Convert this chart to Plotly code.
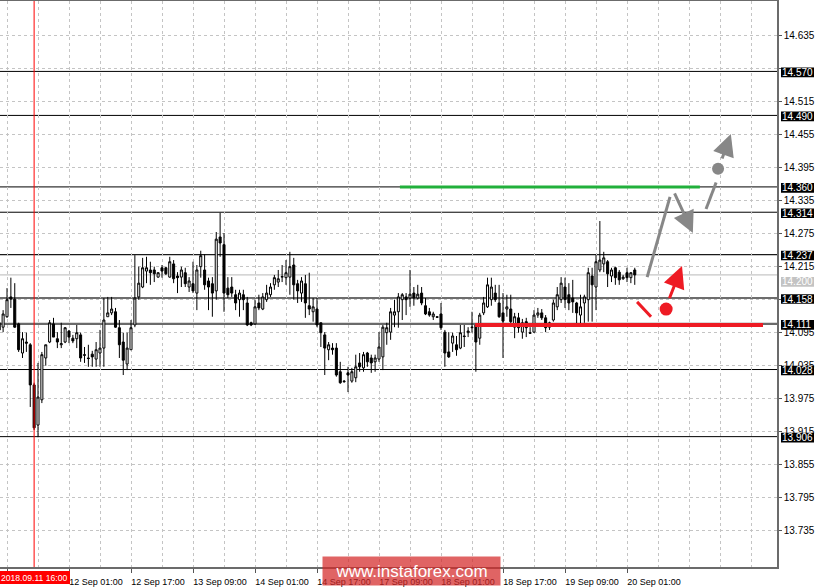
import plotly.graph_objects as go

# ---------------- data ----------------
# bar index 0 = 11 Sep 09:00 (H1 bars, weekend skipped)
BARS = list(range(-2, 163))
OPEN = [14.100, 14.105, 14.124, 14.160, 14.156, 14.111, 14.058, 14.078, 14.073, 14.000,
        13.927, 13.973, 14.049, 14.078, 14.111, 14.084, 14.073, 14.078, 14.098, 14.085,
        14.084, 14.091, 14.055, 14.049, 14.056, 14.047, 14.058, 14.067, 14.124, 14.131,
        14.133, 14.104, 14.078, 14.038, 14.064, 14.109, 14.160, 14.178, 14.207, 14.209,
        14.209, 14.196, 14.213, 14.213, 14.196, 14.220, 14.198, 14.196, 14.204, 14.178,
        14.184, 14.167, 14.215, 14.209, 14.189, 14.184, 14.171, 14.269, 14.255, 14.176,
        14.178, 14.164, 14.155, 14.164, 14.149, 14.113, 14.111, 14.149, 14.138, 14.155,
        14.164, 14.182, 14.187, 14.196, 14.195, 14.196, 14.218, 14.184, 14.167, 14.184,
        14.144, 14.133, 14.138, 14.113, 14.091, 14.064, 14.067, 14.067, 14.024, 14.007,
        14.022, 14.007, 14.013, 14.040, 14.031, 14.058, 14.049, 14.042, 14.047, 14.051,
        14.095, 14.096, 14.127, 14.133, 14.155, 14.160, 14.158, 14.167, 14.158, 14.167,
        14.144, 14.133, 14.124, 14.124, 14.129, 14.096, 14.060, 14.076, 14.073, 14.067,
        14.089, 14.095, 14.104, 14.109, 14.085, 14.131, 14.142, 14.155, 14.167, 14.149,
        14.131, 14.138, 14.138, 14.105, 14.122, 14.096, 14.115, 14.095, 14.096, 14.127,
        14.131, 14.122, 14.105, 14.118, 14.142, 14.155, 14.178, 14.164, 14.158, 14.149,
        14.127, 14.149, 14.155, 14.198, 14.178, 14.209, 14.220, 14.224, 14.198, 14.213,
        14.205, 14.193, 14.204, 14.195, 14.209]
HIGH = [14.122, 14.136, 14.176, 14.195, 14.185, 14.113, 14.096, 14.095, 14.076, 14.004,
        14.040, 14.060, 14.073, 14.118, 14.122, 14.096, 14.113, 14.105, 14.100, 14.091,
        14.109, 14.095, 14.069, 14.073, 14.062, 14.078, 14.100, 14.158, 14.160, 14.160,
        14.140, 14.118, 14.095, 14.095, 14.118, 14.236, 14.215, 14.231, 14.233, 14.224,
        14.215, 14.205, 14.218, 14.215, 14.233, 14.227, 14.205, 14.215, 14.213, 14.196,
        14.224, 14.218, 14.244, 14.238, 14.195, 14.196, 14.278, 14.313, 14.276, 14.196,
        14.196, 14.173, 14.173, 14.173, 14.160, 14.115, 14.155, 14.164, 14.167, 14.182,
        14.185, 14.200, 14.209, 14.218, 14.227, 14.242, 14.231, 14.191, 14.196, 14.200,
        14.204, 14.158, 14.158, 14.113, 14.096, 14.078, 14.076, 14.076, 14.042, 14.009,
        14.033, 14.031, 14.055, 14.058, 14.060, 14.060, 14.055, 14.055, 14.096, 14.109,
        14.113, 14.140, 14.155, 14.167, 14.167, 14.167, 14.209, 14.178, 14.182, 14.178,
        14.158, 14.140, 14.133, 14.125, 14.149, 14.100, 14.096, 14.095, 14.089, 14.109,
        14.109, 14.105, 14.133, 14.109, 14.131, 14.160, 14.195, 14.195, 14.182, 14.182,
        14.167, 14.164, 14.164, 14.131, 14.131, 14.120, 14.122, 14.105, 14.136, 14.140,
        14.138, 14.127, 14.115, 14.155, 14.178, 14.196, 14.195, 14.185, 14.191, 14.151,
        14.164, 14.164, 14.213, 14.213, 14.236, 14.298, 14.242, 14.227, 14.213, 14.215,
        14.209, 14.200, 14.213, 14.205, 14.213]
LOW = [14.091, 14.096, 14.122, 14.140, 14.104, 14.060, 14.049, 14.060, 13.960, 13.918,
       13.905, 13.967, 14.035, 14.076, 14.087, 14.067, 14.067, 14.076, 14.076, 14.076,
       14.067, 14.042, 14.040, 14.033, 14.033, 14.033, 14.033, 14.033, 14.124, 14.127,
       14.104, 14.049, 14.018, 14.027, 14.064, 14.105, 14.155, 14.176, 14.185, 14.182,
       14.187, 14.195, 14.195, 14.200, 14.195, 14.185, 14.167, 14.178, 14.178, 14.169,
       14.167, 14.136, 14.195, 14.173, 14.136, 14.124, 14.155, 14.233, 14.133, 14.158,
       14.160, 14.136, 14.124, 14.136, 14.107, 14.107, 14.109, 14.136, 14.136, 14.151,
       14.160, 14.173, 14.178, 14.187, 14.182, 14.164, 14.155, 14.149, 14.151, 14.122,
       14.127, 14.115, 14.105, 14.069, 14.018, 14.045, 14.055, 14.015, 14.002, 14.004,
       13.987, 14.004, 14.005, 14.024, 14.024, 14.033, 14.022, 14.024, 14.042, 14.027,
       14.073, 14.082, 14.105, 14.104, 14.118, 14.127, 14.142, 14.144, 14.155, 14.145,
       14.127, 14.124, 14.118, 14.122, 14.100, 14.033, 14.049, 14.060, 14.053, 14.065,
       14.069, 14.087, 14.095, 14.024, 14.073, 14.127, 14.140, 14.144, 14.151, 14.122,
       14.049, 14.124, 14.109, 14.085, 14.095, 14.084, 14.087, 14.093, 14.095, 14.122,
       14.118, 14.096, 14.100, 14.115, 14.136, 14.149, 14.140, 14.136, 14.131, 14.109,
       14.109, 14.113, 14.115, 14.115, 14.136, 14.205, 14.205, 14.178, 14.187, 14.182,
       14.182, 14.191, 14.187, 14.185, 14.182]
CLOSE = [14.113, 14.129, 14.155, 14.156, 14.105, 14.064, 14.084, 14.076, 14.000, 13.922,
         13.978, 14.055, 14.073, 14.113, 14.087, 14.078, 14.075, 14.104, 14.087, 14.080,
         14.095, 14.049, 14.054, 14.048, 14.051, 14.064, 14.067, 14.118, 14.131, 14.138,
         14.105, 14.073, 14.045, 14.067, 14.104, 14.158, 14.185, 14.213, 14.213, 14.204,
         14.202, 14.204, 14.207, 14.202, 14.224, 14.193, 14.195, 14.209, 14.184, 14.189,
         14.171, 14.209, 14.235, 14.182, 14.178, 14.167, 14.265, 14.258, 14.167, 14.164,
         14.167, 14.149, 14.167, 14.155, 14.109, 14.109, 14.142, 14.140, 14.160, 14.167,
         14.178, 14.195, 14.193, 14.197, 14.204, 14.215, 14.182, 14.171, 14.189, 14.149,
         14.138, 14.142, 14.109, 14.095, 14.067, 14.073, 14.064, 14.018, 14.004, 14.006,
         14.018, 14.024, 14.033, 14.033, 14.055, 14.042, 14.040, 14.049, 14.069, 14.105,
         14.104, 14.133, 14.133, 14.160, 14.164, 14.155, 14.165, 14.158, 14.165, 14.149,
         14.129, 14.127, 14.129, 14.123, 14.104, 14.058, 14.051, 14.089, 14.064, 14.095,
         14.088, 14.098, 14.105, 14.078, 14.127, 14.149, 14.182, 14.178, 14.155, 14.124,
         14.116, 14.142, 14.115, 14.124, 14.104, 14.113, 14.104, 14.094, 14.127, 14.131,
         14.122, 14.104, 14.113, 14.149, 14.164, 14.185, 14.155, 14.149, 14.151, 14.131,
         14.142, 14.160, 14.204, 14.182, 14.224, 14.227, 14.231, 14.202, 14.209, 14.195,
         14.191, 14.196, 14.195, 14.204, 14.200]

TICK_BARS = [0, 16, 32, 48, 64, 80, 96, 112, 128, 144, 160]
TICK_LABELS = ["", "12 Sep 01:00", "12 Sep 17:00", "13 Sep 09:00",
               "14 Sep 01:00", "14 Sep 17:00", "17 Sep 09:00", "18 Sep 01:00",
               "18 Sep 17:00", "19 Sep 09:00", "20 Sep 01:00"]
PRICE_TICKS = [13.735, 13.795, 13.855, 13.915, 13.975, 14.035, 14.095, 14.155,
               14.215, 14.275, 14.335, 14.395, 14.455, 14.515, 14.575, 14.635]
PRICE_TICK_LABELS = ["13.735", "13.795", "13.855", "13.915", "13.975", "14.035", "14.095", "",
                     "14.215", "14.275", "14.335", "14.395", "14.455", "14.515", "", "14.635"]

LEVELS = [14.570, 14.490, 14.360, 14.314, 14.237, 14.158, 14.111, 14.028, 13.906]
LEVEL_LINE_COLORS = ["#000000", "#000000", "#000000", "#000000", "#1a1a1a",
                     "#3c3c3c", "#6a6a6a", "#000000", "#000000"]
LEVEL_LINE_WIDTHS = [1, 1, 1, 1, 1.3, 1.6, 2.2, 1, 1]
BID_PRICE = 14.200

CROSS_BAR = 7
CROSS_LABEL = "2018.09.11 16:00"

GREEN_BARS = [101.4, 178.8]
GREEN_PRICES = [14.360, 14.360]
RED_BARS = [120.8, 195.1]
RED_PRICES = [14.109, 14.109]

GRAY_UP_BARS = [165.2, 171.1]
GRAY_UP_PRICES = [14.196, 14.342]
GRAY_DASH_BARS = [180.4, 183.0]
GRAY_DASH_PRICES = [14.320, 14.368]
GRAY_DOWN_ARROW = [(172.1, 14.351), (177.0, 14.276)]   # (tail), (tip)
GRAY_DOT = (183.5, 14.393)
GRAY_UP_ARROW = [(184.4, 14.409), (186.8, 14.456)]
RED_DASH_BARS = [162.6, 166.2]
RED_DASH_PRICES = [14.151, 14.124]
RED_DOT = (170.1, 14.138)
RED_UP_ARROW = [(170.8, 14.155), (174.2, 14.216)]

WATERMARK = "www.instaforex.com"

# ---------------- geometry ----------------
W, H = 824, 588
ML, MR, MT, MB = 0, 47, 1, 21
PW, PH = W - ML - MR, H - MT - MB
YMIN, YMAX = 13.669, 14.698
XMIN, XMAX = -1.806, 198.71
FONT = "Liberation Sans, Arial, sans-serif"


def paper_y(price):
    return (price - YMIN) / (YMAX - YMIN)


fig = go.Figure()

fig.add_trace(go.Candlestick(
    x=BARS, open=OPEN, high=HIGH, low=LOW, close=CLOSE,
    increasing=dict(line=dict(color="#000000", width=1), fillcolor="#ffffff"),
    decreasing=dict(line=dict(color="#000000", width=1), fillcolor="#000000"),
    whiskerwidth=0, hoverinfo="skip", showlegend=False,
))

# hand-drawn trade idea
fig.add_trace(go.Scatter(x=GREEN_BARS, y=GREEN_PRICES, mode="lines",
                         line=dict(color="#21b03b", width=3), hoverinfo="skip"))
fig.add_trace(go.Scatter(x=RED_BARS, y=RED_PRICES, mode="lines",
                         line=dict(color="#ee1b24", width=4), hoverinfo="skip"))
fig.add_trace(go.Scatter(x=GRAY_UP_BARS, y=GRAY_UP_PRICES, mode="lines",
                         line=dict(color="#878787", width=3), hoverinfo="skip"))
fig.add_trace(go.Scatter(x=GRAY_DASH_BARS, y=GRAY_DASH_PRICES, mode="lines",
                         line=dict(color="#878787", width=3), hoverinfo="skip"))
fig.add_trace(go.Scatter(x=RED_DASH_BARS, y=RED_DASH_PRICES, mode="lines",
                         line=dict(color="#ee1b24", width=3), hoverinfo="skip"))
fig.add_trace(go.Scatter(x=[GRAY_DOT[0]], y=[GRAY_DOT[1]], mode="markers",
                         marker=dict(color="#878787", size=12), hoverinfo="skip"))
fig.add_trace(go.Scatter(x=[RED_DOT[0]], y=[RED_DOT[1]], mode="markers",
                         marker=dict(color="#ee1b24", size=13), hoverinfo="skip"))

annotations = []
for (tail, tip, col) in [(GRAY_DOWN_ARROW[0], GRAY_DOWN_ARROW[1], "#878787"),
                         (GRAY_UP_ARROW[0], GRAY_UP_ARROW[1], "#878787"),
                         (RED_UP_ARROW[0], RED_UP_ARROW[1], "#ee1b24")]:
    annotations.append(dict(x=tip[0], y=tip[1], ax=tail[0], ay=tail[1],
                            xref="x", yref="y", axref="x", ayref="y", text="",
                            showarrow=True, arrowhead=2, arrowsize=1.45, arrowwidth=3,
                            arrowcolor=col, standoff=0, startstandoff=0))

shapes = []
# level lines
for p, c, w in zip(LEVELS, LEVEL_LINE_COLORS, LEVEL_LINE_WIDTHS):
    shapes.append(dict(type="line", xref="paper", yref="y", x0=0, x1=1, y0=p, y1=p,
                       line=dict(color=c, width=w), layer="below"))
shapes.append(dict(type="line", xref="paper", yref="y", x0=0, x1=1,
                   y0=BID_PRICE, y1=BID_PRICE,
                   line=dict(color="#b9b9b9", width=1), layer="below"))
# crosshair vertical line
shapes.append(dict(type="line", xref="x", yref="paper", x0=CROSS_BAR, x1=CROSS_BAR,
                   y0=0, y1=1, line=dict(color="#ff0000", width=1), layer="above"))

# price label boxes on the right scale
box_x0, box_x1 = 781 / PW, 814 / PW
half = 4.8 / PH
label_font = dict(family=FONT, size=10, color="#ffffff")
for p in LEVELS:
    yc = paper_y(p) - 1 / PH
    shapes.append(dict(type="rect", xref="paper", yref="paper", x0=box_x0, x1=box_x1,
                       y0=yc - half, y1=yc + half, fillcolor="#000000",
                       line=dict(width=0), layer="above"))
    annotations.append(dict(xref="paper", yref="paper", x=782 / PW, y=yc,
                            xanchor="left", yanchor="middle", text=f"{p:.3f}",
                            showarrow=False, borderpad=0, borderwidth=0, font=label_font))
yc = paper_y(BID_PRICE) - 7 / PH
shapes.append(dict(type="rect", xref="paper", yref="paper", x0=box_x0, x1=box_x1,
                   y0=yc - half, y1=yc + half, fillcolor="#c3c3c3",
                   line=dict(width=0), layer="above"))
annotations.append(dict(xref="paper", yref="paper", x=782 / PW, y=yc,
                        xanchor="left", yanchor="middle", text=f"{BID_PRICE:.3f}",
                        showarrow=False, borderpad=0, borderwidth=0, font=label_font))

# crosshair time label
shapes.append(dict(type="rect", xref="paper", yref="paper", x0=0, x1=70 / PW,
                   y0=-(584 - MT - PH) / PH, y1=-(571 - MT - PH) / PH,
                   fillcolor="#ff0000", line=dict(width=0), layer="above"))
annotations.append(dict(xref="paper", yref="paper", x=1 / PW, y=-(577.5 - MT - PH) / PH,
                        xanchor="left", yanchor="middle", text=CROSS_LABEL, showarrow=False,
                        borderpad=0, borderwidth=0,
                        font=dict(family=FONT, size=8.6, color="#ffffff")))

# watermark
annotations.append(dict(xref="paper", yref="paper", x=411.5 / PW, y=-(571 - MT - PH) / PH,
                        xanchor="center", yanchor="middle", text=WATERMARK, showarrow=False,
                        font=dict(family=FONT, size=17, color="#ffffff"),
                        bgcolor="rgba(212,40,40,0.72)", width=177, height=28, borderpad=0))

fig.update_layout(
    width=W, height=H,
    margin=dict(l=ML, r=MR, t=MT, b=MB, pad=0),
    paper_bgcolor="#ffffff", plot_bgcolor="#ffffff",
    showlegend=False, boxgap=0.25,
    shapes=shapes, annotations=annotations,
    font=dict(family=FONT, size=10, color="#000000"),
    xaxis=dict(
        range=[XMIN, XMAX], rangeslider=dict(visible=False),
        tickvals=TICK_BARS, ticktext=TICK_LABELS,
        ticks="outside", ticklen=4, tickcolor="#555555", tickwidth=1,
        tickfont=dict(family=FONT, size=9, color="#000000"),
        ticklabelshift=27, ticklabelstandoff=1,
        showgrid=False, zeroline=False,
        minor=dict(tickvals=list(range(0, 200, 8)), showgrid=True,
                   gridcolor="#c4c4c4", griddash="3px,3px", gridwidth=1, ticks=""),
        showline=True, linecolor="#6b6b6b", linewidth=1.5, mirror=True,
        fixedrange=True,
    ),
    yaxis=dict(
        range=[YMIN, YMAX], side="right",
        tickvals=PRICE_TICKS, ticktext=PRICE_TICK_LABELS,
        ticks="outside", ticklen=3, tickcolor="#555555", tickwidth=1,
        tickfont=dict(family=FONT, size=10, color="#000000"),
        ticklabelstandoff=0,
        showgrid=True, gridcolor="#c4c4c4", griddash="3px,3px", gridwidth=1,
        zeroline=False, showline=True, linecolor="#6b6b6b", linewidth=1.5,
        fixedrange=True,
    ),
)

fig.write_html("out.html", config={"displayModeBar": False},
               post_script="document.body.style.margin='0';document.body.style.overflow='hidden';")
